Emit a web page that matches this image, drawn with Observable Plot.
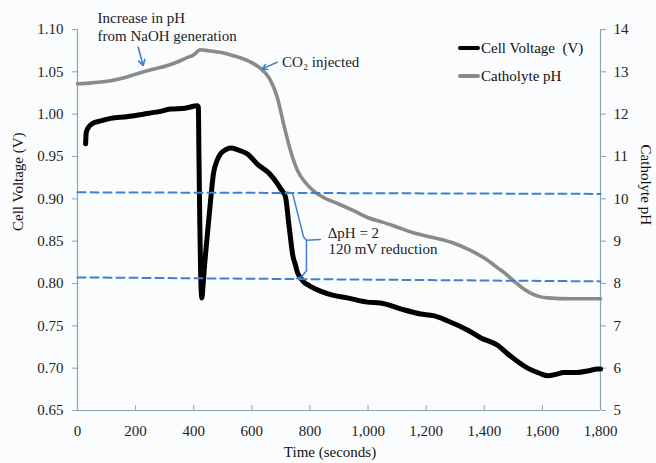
<!DOCTYPE html>
<html><head><meta charset="utf-8">
<script src="https://cdn.jsdelivr.net/npm/d3@7"></script>
<script src="https://cdn.jsdelivr.net/npm/@observablehq/plot@0.6"></script>
<style>
html,body{margin:0;padding:0;background:#fbfcfe;}
#wrap{position:relative;width:656px;height:463px;overflow:hidden;background:#fbfcfe;}
.leg{position:absolute;font-family:"Liberation Serif",serif;font-size:15px;color:#111;line-height:15px;white-space:pre;}
.sw{position:absolute;width:22px;height:4px;border-radius:2px;}
</style></head><body><div id="wrap"></div>
<script>
// Cell voltage (V) vs time (s)
const voltTime  = [28, 30, 35, 52, 80, 114, 170, 227, 280, 320, 370, 413, 416, 418, 421, 424, 428, 432, 437, 447, 458, 468, 480, 492, 510, 527, 550, 585, 619, 660, 688, 699, 716, 726, 733, 740, 750, 757, 767, 778, 800, 836, 881, 929, 998, 1043, 1112, 1181, 1225, 1273, 1342, 1387, 1446, 1480, 1549, 1590, 1618, 1650, 1673, 1720, 1760, 1790, 1800];
const voltValue = [0.965, 0.978, 0.983, 0.989, 0.992, 0.995, 0.997, 1.000, 1.003, 1.006, 1.007, 1.010, 1.008, 0.95, 0.87, 0.81, 0.783, 0.797, 0.82, 0.858, 0.898, 0.930, 0.945, 0.953, 0.958, 0.960, 0.958, 0.953, 0.941, 0.930, 0.918, 0.912, 0.902, 0.874, 0.854, 0.835, 0.822, 0.813, 0.807, 0.802, 0.797, 0.791, 0.786, 0.783, 0.778, 0.777, 0.770, 0.764, 0.762, 0.756, 0.745, 0.736, 0.727, 0.717, 0.700, 0.694, 0.691, 0.693, 0.695, 0.695, 0.697, 0.699, 0.699];

// Catholyte pH vs time (s)
const phTime  = [0, 50, 114, 170, 217, 260, 310, 350, 379, 400, 423, 450, 500, 537, 590, 630, 660, 688, 709, 733, 757, 780, 812, 850, 895, 950, 998, 1050, 1101, 1156, 1200, 1239, 1300, 1353, 1400, 1446, 1475, 1500, 1530, 1558, 1590, 1618, 1700, 1800];
const phValue = [12.72, 12.74, 12.79, 12.88, 12.98, 13.06, 13.15, 13.25, 13.34, 13.40, 13.52, 13.50, 13.45, 13.38, 13.25, 13.08, 12.85, 12.39, 11.78, 11.14, 10.67, 10.42, 10.19, 10.02, 9.89, 9.72, 9.56, 9.45, 9.33, 9.20, 9.12, 9.06, 8.94, 8.78, 8.60, 8.37, 8.22, 8.07, 7.90, 7.78, 7.69, 7.66, 7.64, 7.64];

// Axis ticks
const voltTicks = [0.65, 0.70, 0.75, 0.80, 0.85, 0.90, 0.95, 1.00, 1.05, 1.10];
const phTicks   = [5, 6, 7, 8, 9, 10, 11, 12, 13, 14];
const timeTicks = [0, 200, 400, 600, 800, 1000, 1200, 1400, 1600, 1800];

// Reference dashed lines (cell-voltage units)
const dashTime  = [0, 1800];
const dashUpper = [0.9077, 0.9058];
const dashLower = [0.8072, 0.8025];

// Brace (time, voltage units)
const braceTime = [716, 740, 778, 788, 836, 788, 788, 788, 771, 754];
const braceV    = [0.908, 0.907, 0.855, 0.851, 0.852, 0.851, 0.846, 0.815, 0.808, 0.806];

// Annotations
const annoText = ["Increase in pH", "from NaOH generation", "CO\u2082 injected", "\u0394pH = 2", "120 mV reduction"];
const annoTime = [69, 69, 704, 861, 864];
const annoV    = [1.113, 1.0917, 1.0613, 0.860, 0.840];

// Arrows
const arrowTime1 = [209, 687];
const arrowV1    = [1.0791, 1.0613];
const arrowTime2 = [226, 636];
const arrowV2    = [1.0574, 1.0535];

const toV = ph => 0.65 + (ph - 5) * 0.05;
const toPH = v => (v - 0.65) / 0.05 + 5;

const volt = voltTime.map((t, i) => ({t, v: voltValue[i]}));
const ph = phTime.map((t, i) => ({t, v: toV(phValue[i])}));
const upper = dashTime.map((t, i) => ({t, v: dashUpper[i]}));
const lower = dashTime.map((t, i) => ({t, v: dashLower[i]}));
const brace = braceTime.map((t, i) => ({t, v: braceV[i]}));
const annos = annoText.map((s, i) => ({s, t: annoTime[i], v: annoV[i]}));
const arrows = arrowTime1.map((t, i) => ({t1: t, v1: arrowV1[i], t2: arrowTime2[i], v2: arrowV2[i]}));

const axisColor = "#86a8b2";
const blue = "#3f80d0";
const font = "Liberation Serif, Times New Roman, serif";

const chart = Plot.plot({
  width: 656,
  height: 463,
  marginLeft: 77,
  marginRight: 56,
  marginTop: 29,
  marginBottom: 53,
  style: {fontFamily: font, fontSize: "15px", background: "transparent", overflow: "visible"},
  x: {domain: [0, 1800]},
  y: {domain: [0.65, 1.10]},
  marks: [
    Plot.axisY(voltTicks, {anchor: "left", tickFormat: d3.format(".2f"), tickSize: 5, tickPadding: 9, stroke: axisColor, fill: "#222", label: null, fontSize: 15}),
    Plot.axisY(phTicks.map(toV), {anchor: "right", tickFormat: v => String(Math.round(toPH(v))), tickSize: 5, tickPadding: 8, stroke: axisColor, fill: "#222", label: null, fontSize: 15}),
    Plot.axisX(timeTicks, {anchor: "bottom", tickFormat: d3.format(","), tickSize: -5, tickPadding: 20, stroke: axisColor, fill: "#222", label: null, fontSize: 15}),
    Plot.ruleX([0, 1800], {stroke: axisColor, strokeWidth: 1.2}),
    Plot.ruleY([0.65], {stroke: axisColor, strokeWidth: 1.2}),
    Plot.line(ph, {x: "t", y: "v", stroke: "#8a8a8a", strokeWidth: 3.6, strokeLinejoin: "round", curve: "monotone-x"}),
    Plot.line(volt, {x: "t", y: "v", stroke: "#000", strokeWidth: 5, strokeLinejoin: "round", strokeLinecap: "round", curve: "monotone-x"}),
    Plot.line(upper, {x: "t", y: "v", stroke: blue, strokeWidth: 2, strokeDasharray: "8,5"}),
    Plot.line(lower, {x: "t", y: "v", stroke: blue, strokeWidth: 2, strokeDasharray: "8,5"}),
    Plot.line(brace, {x: "t", y: "v", stroke: blue, strokeWidth: 1.5, strokeLinejoin: "round"}),
    Plot.arrow(arrows, {x1: "t1", y1: "v1", x2: "t2", y2: "v2", stroke: blue, strokeWidth: 1.6, headLength: 7}),
    Plot.text(annos, {x: "t", y: "v", text: "s", textAnchor: "start", lineAnchor: "middle", fontSize: 15, fill: "#222", clip: false}),
    Plot.text(["Cell Voltage (V)"], {frameAnchor: "left", rotate: -90, dx: -59, dy: 11, fontSize: 15, fill: "#111"}),
    Plot.text(["Catholyte pH"], {frameAnchor: "right", rotate: 90, dx: 45, dy: 5, fontSize: 15, fill: "#111"}),
    Plot.text(["Time (seconds)"], {frameAnchor: "bottom", dy: 46, dx: -9, fontSize: 15, fill: "#111"})
  ]
});

const wrap = document.getElementById("wrap");
wrap.appendChild(chart);

// Legend
const legend = [
  {label: "Cell Voltage  (V)", color: "#000", top: 48, h: 4},
  {label: "Catholyte pH", color: "#8a8a8a", top: 76, h: 3.5}
];
for (const it of legend) {
  const sw = document.createElement("div");
  sw.className = "sw";
  sw.style.left = "458px";
  sw.style.top = (it.top - it.h / 2) + "px";
  sw.style.height = it.h + "px";
  sw.style.background = it.color;
  wrap.appendChild(sw);
  const tx = document.createElement("div");
  tx.className = "leg";
  tx.style.left = "481px";
  tx.style.top = (it.top - 7) + "px";
  tx.textContent = it.label;
  wrap.appendChild(tx);
}
</script></body></html>
